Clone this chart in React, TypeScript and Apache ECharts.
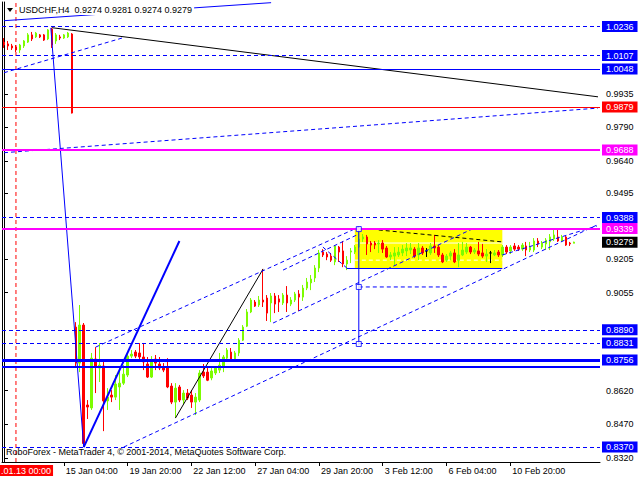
import React, { useEffect, useRef } from "react";
import * as echarts from "echarts";

// ---- candle data (H4 bars, index 0 = 12 Jan 2015 16:00) ----
const opens = [
  1.0167, 1.0159, 1.0150, 1.0145, 1.0132, 1.0150, 1.0167, 1.0199, 1.0190, 1.0199,
  1.0199, 1.0181, 1.0225, 1.0172, 1.0190, 1.0185, 1.0190, 1.0203, 0.8902, 0.8742,
  0.8911, 0.8556, 0.8543, 0.8760, 0.8720, 0.8729, 0.8574, 0.8600, 0.8591, 0.8636,
  0.8653, 0.8689, 0.8773, 0.8791, 0.8787, 0.8769, 0.8738, 0.8680, 0.8760, 0.8738,
  0.8725, 0.8720, 0.8640, 0.8569, 0.8636, 0.8578, 0.8609, 0.8600, 0.8569, 0.8578,
  0.8702, 0.8702, 0.8676, 0.8698, 0.8711, 0.8725, 0.8764, 0.8791, 0.8756, 0.8787,
  0.8844, 0.8906, 0.8969, 0.9013, 0.9000, 0.9022, 0.9031, 0.9009, 0.9040, 0.9027,
  0.9009, 0.9044, 0.9004, 0.9022, 0.9049, 0.9035, 0.9075, 0.9098, 0.9120, 0.9164,
  0.9235, 0.9226, 0.9217, 0.9191, 0.9257, 0.9240, 0.9182, 0.9235, 0.9235, 0.9257,
  0.9293, 0.9302, 0.9275, 0.9275, 0.9271, 0.9275, 0.9253, 0.9213, 0.9217, 0.9222,
  0.9231, 0.9240, 0.9244, 0.9248, 0.9222, 0.9253, 0.9240, 0.9231, 0.9262, 0.9257,
  0.9222, 0.9199, 0.9217, 0.9231, 0.9199, 0.9222, 0.9235, 0.9257, 0.9235, 0.9240,
  0.9231, 0.9217, 0.9231, 0.9222, 0.9235, 0.9222, 0.9257, 0.9240, 0.9262, 0.9257,
  0.9248, 0.9262, 0.9244, 0.9244, 0.9284, 0.9257, 0.9271, 0.9280, 0.9293, 0.9302,
  0.9284, 0.9302, 0.9275, 0.9274,
];
const highs = [
  1.0185, 1.0172, 1.0159, 1.0154, 1.0159, 1.0176, 1.0207, 1.0212, 1.0212, 1.0203,
  1.0203, 1.0225, 1.0230, 1.0207, 1.0199, 1.0203, 1.0212, 1.0207, 0.8924, 0.9000,
  0.8920, 0.8578, 0.8787, 0.8813, 0.8831, 0.8747, 0.8631, 0.8622, 0.8689, 0.8725,
  0.8733, 0.8791, 0.8800, 0.8800, 0.8831, 0.8831, 0.8769, 0.8773, 0.8778, 0.8769,
  0.8742, 0.8764, 0.8653, 0.8653, 0.8645, 0.8622, 0.8627, 0.8622, 0.8609, 0.8711,
  0.8738, 0.8720, 0.8720, 0.8729, 0.8787, 0.8778, 0.8809, 0.8809, 0.8796, 0.8853,
  0.8911, 0.8982, 0.9031, 0.9022, 0.9040, 0.9160, 0.9044, 0.9053, 0.9053, 0.9044,
  0.9053, 0.9084, 0.9035, 0.9058, 0.9066, 0.9089, 0.9120, 0.9133, 0.9177, 0.9244,
  0.9248, 0.9235, 0.9231, 0.9266, 0.9262, 0.9284, 0.9217, 0.9253, 0.9266, 0.9328,
  0.9315, 0.9311, 0.9284, 0.9284, 0.9288, 0.9288, 0.9262, 0.9235, 0.9257, 0.9257,
  0.9266, 0.9275, 0.9275, 0.9257, 0.9275, 0.9262, 0.9253, 0.9275, 0.9311, 0.9266,
  0.9231, 0.9226, 0.9240, 0.9248, 0.9275, 0.9280, 0.9275, 0.9262, 0.9253, 0.9280,
  0.9271, 0.9248, 0.9240, 0.9244, 0.9244, 0.9266, 0.9266, 0.9266, 0.9275, 0.9266,
  0.9275, 0.9280, 0.9280, 0.9297, 0.9297, 0.9284, 0.9297, 0.9315, 0.9333, 0.9337,
  0.9311, 0.9306, 0.9280, 0.9281,
];
const lows = [
  1.0141, 1.0132, 1.0132, 1.0123, 1.0119, 1.0141, 1.0163, 1.0172, 1.0185, 1.0185,
  1.0172, 1.0176, 1.0141, 1.0159, 1.0176, 1.0181, 1.0185, 0.9850, 0.8725, 0.8702,
  0.8370, 0.8494, 0.8534, 0.8609, 0.8658, 0.8440, 0.8534, 0.8569, 0.8578, 0.8534,
  0.8645, 0.8680, 0.8764, 0.8764, 0.8747, 0.8711, 0.8676, 0.8676, 0.8711, 0.8711,
  0.8702, 0.8631, 0.8560, 0.8498, 0.8569, 0.8560, 0.8578, 0.8543, 0.8511, 0.8569,
  0.8676, 0.8662, 0.8666, 0.8689, 0.8698, 0.8702, 0.8756, 0.8751, 0.8747, 0.8773,
  0.8840, 0.8902, 0.8964, 0.8991, 0.8991, 0.8991, 0.8929, 0.8924, 0.8964, 0.8969,
  0.9000, 0.8969, 0.8995, 0.9013, 0.8973, 0.9018, 0.9066, 0.9066, 0.9102, 0.9146,
  0.9213, 0.9199, 0.9191, 0.9177, 0.9191, 0.9168, 0.9155, 0.9186, 0.9226, 0.9253,
  0.9280, 0.9222, 0.9235, 0.9248, 0.9231, 0.9231, 0.9209, 0.9199, 0.9177, 0.9213,
  0.9217, 0.9217, 0.9226, 0.9209, 0.9199, 0.9222, 0.9213, 0.9222, 0.9231, 0.9213,
  0.9186, 0.9191, 0.9199, 0.9186, 0.9168, 0.9217, 0.9226, 0.9226, 0.9226, 0.9217,
  0.9209, 0.9191, 0.9186, 0.9217, 0.9213, 0.9213, 0.9226, 0.9226, 0.9240, 0.9240,
  0.9240, 0.9217, 0.9235, 0.9235, 0.9257, 0.9248, 0.9244, 0.9244, 0.9284, 0.9280,
  0.9280, 0.9262, 0.9262, 0.9274,
];
const closes = [
  1.0154, 1.0150, 1.0141, 1.0132, 1.0154, 1.0172, 1.0199, 1.0181, 1.0207, 1.0190,
  1.0176, 1.0221, 1.0154, 1.0199, 1.0185, 1.0199, 1.0207, 0.9852, 0.8742, 0.8911,
  0.8385, 0.8547, 0.8764, 0.8725, 0.8733, 0.8574, 0.8591, 0.8591, 0.8649, 0.8653,
  0.8693, 0.8773, 0.8782, 0.8773, 0.8769, 0.8747, 0.8680, 0.8756, 0.8742, 0.8720,
  0.8711, 0.8636, 0.8569, 0.8631, 0.8578, 0.8609, 0.8587, 0.8569, 0.8591, 0.8698,
  0.8685, 0.8666, 0.8707, 0.8720, 0.8733, 0.8769, 0.8800, 0.8756, 0.8787, 0.8844,
  0.8902, 0.8969, 0.9022, 0.8995, 0.9022, 0.9013, 0.8964, 0.9040, 0.9004, 0.9013,
  0.9044, 0.9009, 0.9022, 0.9049, 0.9035, 0.9075, 0.9102, 0.9115, 0.9164, 0.9231,
  0.9222, 0.9213, 0.9199, 0.9262, 0.9235, 0.9182, 0.9199, 0.9240, 0.9257, 0.9293,
  0.9302, 0.9271, 0.9266, 0.9266, 0.9275, 0.9248, 0.9213, 0.9222, 0.9231, 0.9235,
  0.9248, 0.9253, 0.9253, 0.9217, 0.9253, 0.9231, 0.9240, 0.9262, 0.9253, 0.9222,
  0.9191, 0.9217, 0.9231, 0.9191, 0.9222, 0.9244, 0.9257, 0.9235, 0.9244, 0.9226,
  0.9217, 0.9226, 0.9231, 0.9231, 0.9222, 0.9257, 0.9235, 0.9257, 0.9248, 0.9248,
  0.9266, 0.9244, 0.9257, 0.9284, 0.9271, 0.9275, 0.9288, 0.9302, 0.9311, 0.9284,
  0.9302, 0.9266, 0.9271, 0.9279,
];

// ---- axes ----
const TOTAL_SLOTS = 150;
const MONTHS = ["Jan", "Feb", "Mar", "Apr", "May", "Jun", "Jul", "Aug", "Sep", "Oct", "Nov", "Dec"];
function buildCategories(): string[] {
  const out: string[] = [];
  let t = Date.UTC(2015, 0, 12, 16);
  while (out.length < TOTAL_SLOTS) {
    const d = new Date(t);
    const wd = d.getUTCDay();
    if (wd !== 0 && wd !== 6) {
      const h = d.getUTCHours();
      out.push(`${d.getUTCDate()} ${MONTHS[d.getUTCMonth()]} ${h < 10 ? "0" + h : h}:00`);
    }
    t += 4 * 3600 * 1000;
  }
  return out;
}
const categories = buildCategories();
const timeTickIndices = [15, 31, 47, 63, 79, 95, 111, 127];
const priceTicks = [0.9935, 0.979, 0.964, 0.9495, 0.9205, 0.9055, 0.862, 0.847, 0.832];
const Y_MIN = 0.8303;
const Y_MAX = 1.0345;

// ---- horizontal levels ----
const blueDashedLevels = [1.0236, 1.0107, 0.9388, 0.889, 0.8831, 0.837];
const blueSolidLevels = [1.0048];
const redLevels = [0.9879];
const magentaLevels = [0.9688, 0.9339];
const thickBlueLevels = [0.8756];
const thickBlueUnlabeled = [0.8725];
const lastPrice = [0.9279];

// ---- trend objects: [bar, price] pairs ----
const blueTopLine = [[0, 1.0262], [67, 1.0342]];
const blackDownLine = [[12, 1.0231], [149, 0.9924]];
const redDashTop = [[-0.5, 1.0236], [12.5, 1.0236]];
const blueDashUpTop = [[0, 1.0031], [30, 1.0187]];
const blueDashLong = [[0, 0.9676], [149, 0.9874]];
const blueDropLine = [[11.75, 1.023], [20, 0.8369]];
const blueThickUp = [[20, 0.8369], [44, 0.9284]];
const blackUp = [[43, 0.8498], [65, 0.916]];
const chanA = [[23, 0.8813], [89, 0.9346]];
const chanB = [[70, 0.9155], [89, 0.9315]];
const chanD = [[30, 0.8369], [148.75, 0.9355]];
const chanF = [[67.5, 0.892], [118, 0.9342]];
const chanJ = [[125, 0.9222], [148.75, 0.9351]];
const smallDown = [[80, 0.9257], [86, 0.9164]];
const boxBottom = [[86, 0.9162], [125, 0.9162]];
const boxBlackDash = [[94, 0.9333], [125, 0.928]];
const midDashH = [[89, 0.908], [111.75, 0.908]];
const vertLine = [[89, 0.9346], [89, 0.8822]];
const boxWhiteSolid = [[88, 0.9275], [125, 0.9275]];
const boxWhiteDash = [[88, 0.9199], [125, 0.9199]];
const boxRange = [[88, 0.9333], [125, 0.9164]];
const squares = [[89, 0.9337], [89, 0.908], [89, 0.8827]];
const separatorBar = 3;

const FONT = '"Liberation Sans", Arial, sans-serif';
const BLUE = "#0000FF";
const RED = "#FF0000";
const MAGENTA = "#FF00FF";
const GREEN = "#7CFC00";

function seg(pts: number[][], color: string, width: number, dashed: boolean, z = 4) {
  return {
    type: "line",
    xAxisIndex: 1,
    yAxisIndex: 0,
    data: pts,
    symbol: "none",
    silent: true,
    z,
    lineStyle: { color, width, type: dashed ? [4, 3] : "solid" },
  };
}

function level(p: number, color: string, width: number, type: any, labelBg: string | null) {
  return {
    yAxis: p,
    lineStyle: { color, width, type },
    label: labelBg
      ? {
          show: true,
          position: "end",
          distance: 2,
          formatter: () => p.toFixed(4),
          backgroundColor: labelBg,
          color: "#fff",
          fontSize: 9,
          fontFamily: FONT,
          padding: [1, 4, 0, 4],
          lineHeight: 10,
        }
      : { show: false },
  };
}

export default function App() {
  const ref = useRef<HTMLDivElement>(null);
  useEffect(() => {
    if (!ref.current) return;
    const chart = echarts.init(ref.current, null, { renderer: "svg" });
    const candleData = opens.map((o, i) => [o, closes[i], lows[i], highs[i]]);
    const tickSet = new Set(timeTickIndices);
    const markData: any[] = [];
    blueDashedLevels.forEach((p) => markData.push(level(p, BLUE, 1, [4, 3], BLUE)));
    blueSolidLevels.forEach((p) => markData.push(level(p, BLUE, 1, "solid", BLUE)));
    redLevels.forEach((p) => markData.push(level(p, RED, 1, "solid", RED)));
    magentaLevels.forEach((p) => markData.push(level(p, MAGENTA, 2, "solid", MAGENTA)));
    thickBlueLevels.forEach((p) => markData.push(level(p, BLUE, 3, "solid", BLUE)));
    thickBlueUnlabeled.forEach((p) => markData.push(level(p, BLUE, 2, "solid", null)));
    lastPrice.forEach((p) => markData.push(level(p, "rgba(0,0,0,0)", 1, "solid", "#000")));

    const option: any = {
      animation: false,
      backgroundColor: "#fff",
      grid: { left: 2, right: 40, top: 2, bottom: 18, containLabel: false },
      xAxis: [
        {
          type: "category",
          data: categories,
          boundaryGap: true,
          axisLine: { show: true, lineStyle: { color: "#000", width: 1 } },
          axisTick: {
            show: true,
            alignWithLabel: true,
            length: 4,
            interval: (i: number) => tickSet.has(i),
            lineStyle: { color: "#000" },
          },
          axisLabel: {
            show: true,
            interval: (i: number) => tickSet.has(i),
            align: "left",
            margin: 4,
            padding: [0, 0, 0, 2],
            fontSize: 9,
            fontFamily: FONT,
            color: "#000",
          },
          splitLine: { show: false },
        },
        { type: "value", min: -0.5, max: TOTAL_SLOTS - 0.5, show: false },
      ],
      yAxis: [
        {
          type: "value",
          position: "right",
          min: Y_MIN,
          max: Y_MAX,
          scale: true,
          axisLine: { show: true, lineStyle: { color: "#000" } },
          axisTick: { show: true, length: 4, customValues: priceTicks, lineStyle: { color: "#000" } },
          axisLabel: {
            show: true,
            customValues: priceTicks,
            formatter: (v: number) => v.toFixed(4),
            margin: 6,
            fontSize: 9,
            fontFamily: FONT,
            color: "#000",
          },
          splitLine: { show: false },
        },
        {
          type: "value",
          position: "left",
          min: Y_MIN,
          max: Y_MAX,
          axisLine: { show: true, lineStyle: { color: "#000" } },
          axisTick: { show: false },
          axisLabel: { show: false },
          splitLine: { show: false },
        },
      ],
      series: [
        {
          type: "candlestick",
          data: candleData,
          barWidth: 2,
          z: 2,
          itemStyle: {
            color: GREEN,
            color0: RED,
            borderColor: GREEN,
            borderColor0: RED,
            borderColorDoji: "#000",
            borderWidth: 1,
          },
          markArea: {
            silent: true,
            itemStyle: { color: "#FFFF00" },
            data: [[{ xAxis: boxRange[0][0], yAxis: boxRange[0][1] }, { xAxis: boxRange[1][0], yAxis: boxRange[1][1] }]],
          },
          markLine: {
            silent: true,
            symbol: ["none", "none"],
            precision: 4,
            data: markData,
          },
        },
        seg(boxWhiteSolid, "#FFFFFF", 1, false, 1.5),
        seg(boxWhiteDash, "#FFFFFF", 1, true, 1.5),
        seg([[separatorBar, Y_MIN], [separatorBar, Y_MAX]], RED, 1, true),
        seg(blueTopLine, BLUE, 1, false),
        seg(blackDownLine, "#000", 1, false),
        seg(redDashTop, RED, 1, true),
        seg(blueDashUpTop, BLUE, 1, true),
        seg(blueDashLong, BLUE, 1, true),
        seg(blueDropLine, BLUE, 1, false),
        seg(blueThickUp, BLUE, 2, false),
        seg(blackUp, "#000", 1, false),
        seg(chanA, BLUE, 1, true),
        seg(chanB, BLUE, 1, true),
        seg(chanD, BLUE, 1, true),
        seg(chanF, BLUE, 1, true),
        seg(chanJ, BLUE, 1, true),
        seg(smallDown, BLUE, 1, true),
        seg(boxBottom, BLUE, 1, false),
        seg(boxBlackDash, "#000", 1, true),
        seg(midDashH, BLUE, 1, true),
        seg(vertLine, BLUE, 1, false),
        {
          type: "scatter",
          xAxisIndex: 1,
          yAxisIndex: 0,
          data: squares,
          symbol: "rect",
          symbolSize: 5,
          silent: true,
          z: 6,
          itemStyle: { color: "#fff", borderColor: BLUE, borderWidth: 1 },
        },
      ],
      graphic: [
        {
          type: "polygon",
          z: 100,
          shape: { points: [[7, 8], [13, 8], [10, 12]] },
          style: { fill: "#000" },
        },
        {
          type: "text",
          z: 100,
          x: 18,
          y: 4,
          style: {
            text: "USDCHF,H4  0.9274 0.9281 0.9274 0.9279",
            font: `9px ${FONT}`,
            fill: "#000",
            backgroundColor: "#fff",
            padding: [1, 2, 1, 1],
          },
        },
        {
          type: "text",
          z: 100,
          x: 6,
          y: 447,
          style: {
            text: "RoboForex - MetaTrader 4, © 2001-2014, MetaQuotes Software Corp.",
            font: `9px ${FONT}`,
            fill: "#000",
          },
        },
        {
          type: "text",
          z: 100,
          x: 0,
          y: 465,
          style: {
            text: ".01.13 00:00",
            font: `9px ${FONT}`,
            fill: "#fff",
            backgroundColor: RED,
            padding: [1, 2, 1, 1],
          },
        },
      ],
    };
    chart.setOption(option);
    return () => chart.dispose();
  }, []);
  return (
    <div
      ref={ref}
      style={{ position: "fixed", left: 0, top: 0, width: 640, height: 480, background: "#fff" }}
    />
  );
}
